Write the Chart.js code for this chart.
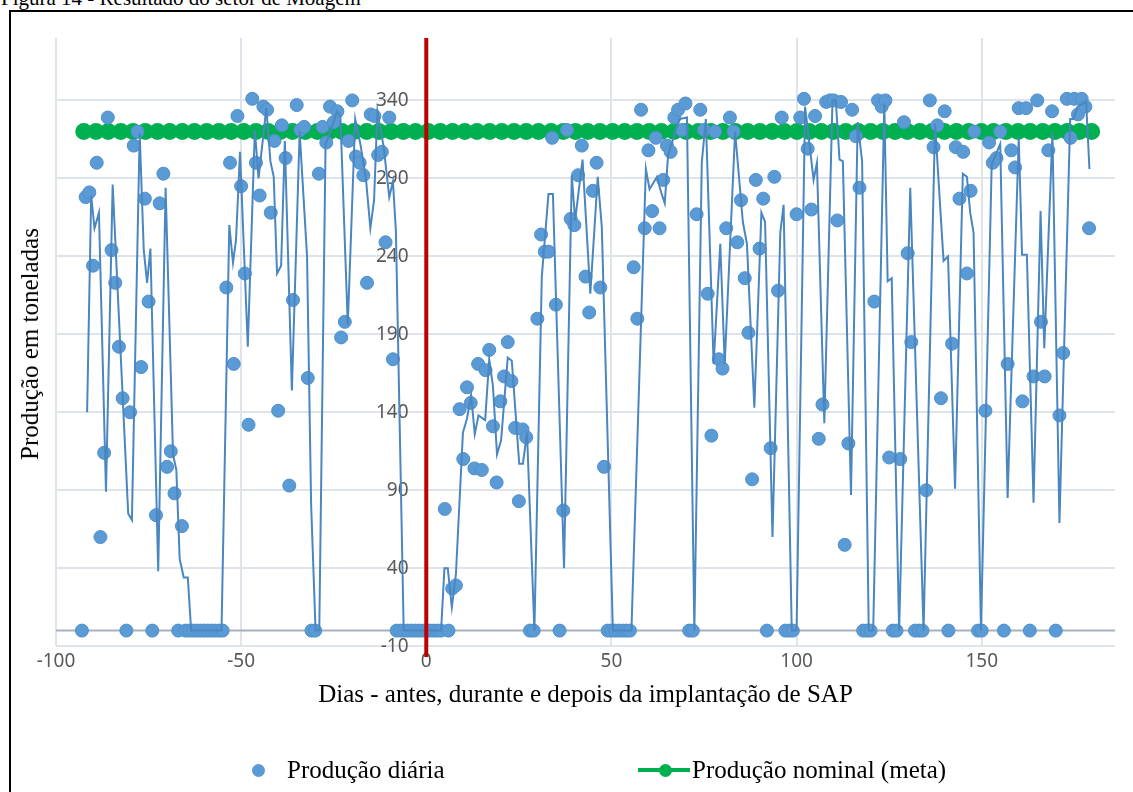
<!DOCTYPE html>
<html>
<head>
<meta charset="utf-8">
<script src="https://cdn.jsdelivr.net/npm/chart.js@4.4.1/dist/chart.umd.min.js"></script>
<style>
  body { margin: 0; background: #fff; width: 1133px; height: 792px; overflow: hidden; position: relative;
         font-family: "Liberation Serif", "Times New Roman", serif; color: #000; }
  #caption { position: absolute; left: 1px; top: -12px; font-size: 21px; line-height: 21px; white-space: nowrap; }
  #frame { position: absolute; left: 9px; top: 10px; width: 1140px; height: 800px; border: 2px solid #000; box-sizing: border-box; }
  #wrap { position: absolute; left: 0; top: 0; width: 1133px; height: 792px; }
  #ytitle { position: absolute; left: 30px; top: 344px; transform: translate(-50%, -50%) rotate(-90deg);
            font-family: "Liberation Serif", serif; font-size: 25px; white-space: nowrap; }
  .leg { position: absolute; top: 756px; height: 28px; font-family: "Liberation Serif", serif;
         font-size: 25px; line-height: 28px; white-space: nowrap; }
  .dot { position: absolute; width: 13px; height: 13px; border-radius: 50%; top: 8px; }
</style>
</head>
<body>
<div id="caption">Figura 14 - Resultado do setor de Moagem</div>
<div id="frame"></div>
<div id="wrap"><canvas id="chart" width="1133" height="792"></canvas></div>
<div id="ytitle">Produção em toneladas</div>
<div class="leg" style="left:250px;">
  <span class="dot" style="left:2px;background:#5b9bd5;"></span>
  <span style="position:absolute;left:37px;">Produção diária</span>
</div>
<div class="leg" style="left:638px;">
  <span style="position:absolute;left:0;top:12px;width:52px;height:4px;background:#00b050;"></span>
  <span class="dot" style="left:21px;background:#00b050;"></span>
  <span style="position:absolute;left:54px;">Produção nominal (meta)</span>
</div>
<script>
// eixo
const xTicks = [-100, -50, 0, 50, 100, 150];
const yTicks = [-10, 40, 90, 140, 190, 240, 290, 340];

// produção diária (t), um valor por dia a partir do dia -93
const firstDay = -93;
const dailyProd = [
  0, 278, 281, 234, 300, 60, 114, 329, 244, 223,
  182, 149, 0, 140, 311, 320, 169, 277, 211, 0,
  74, 274, 293, 105, 115, 88, 0, 67, 0, 0,
  0, 0, 0, 0, 0, 0, 0, 0, 0, 220,
  300, 171, 330, 285, 229, 132, 341, 300, 279, 336,
  334, 268, 314, 141, 324, 303, 93, 212, 337, 321,
  323, 162, 0, 0, 293, 323, 313, 336, 326, 333,
  188, 198, 314, 340, 304, 300, 292, 223, 331, 330,
  305, 307, 249, 329, 174, 0, 0, 0, 0, 0,
  0, 0, 0, 0, 0, 0, 0, 0, 78, 0,
  27, 29, 142, 110, 156, 146, 104, 171, 103, 167,
  180, 131, 95, 147, 163, 185, 160, 130, 83, 129,
  124, 0, 0, 200, 254, 243, 243, 316, 209, 0,
  77, 321, 264, 260, 292, 311, 227, 204, 282, 300,
  220, 105, 0, 0, 0, 0, 0, 0, 0, 233,
  200, 334, 258, 308, 269, 316, 258, 289, 311, 307,
  329, 334, 321, 338, 0, 0, 267, 334, 321, 216,
  125, 320, 174, 168, 258, 329, 320, 249, 276, 226,
  191, 97, 289, 245, 277, 0, 117, 291, 218, 329,
  0, 0, 0, 267, 329, 341, 309, 270, 330, 123,
  145, 339, 340, 340, 263, 339, 55, 120, 334, 317,
  284, 0, 0, 0, 211, 340, 336, 340, 111, 0,
  0, 110, 326, 242, 185, 0, 0, 0, 90, 340,
  310, 324, 149, 333, 0, 184, 310, 277, 307, 229,
  282, 320, 0, 0, 141, 313, 300, 303, 320, 0,
  171, 308, 297, 335, 147, 335, 0, 163, 340, 198,
  163, 308, 333, 0, 138, 178, 341, 316, 341, 331,
  341, 336, 258
];

// linha fina (sem legenda) [dia, t]
const trendLine = [
  [-91.6,140],[-90.5,279],[-89.6,258],[-88.4,268],[-86.5,89],[-84.7,286],[-80.5,75],[-79.5,71],
  [-77.4,319],[-76.3,244],[-75.4,223],[-74.5,245],[-72.4,38],[-70.4,284],[-68.4,113],[-67.5,103],
  [-66.6,46],[-65.5,34],[-64.4,34],[-63.5,0],[-55.3,0],[-53.2,260],[-52.2,236],[-51.4,250],
  [-50.3,307],[-48.2,182],[-46.3,321],[-45.3,290],[-43.2,335],[-42.1,301],[-41.2,291],[-40.3,229],
  [-39.2,234],[-38.2,314],[-36.3,154],[-34.2,320],[-32.2,240],[-31.1,81],[-29.9,0],[-28.9,0],
  [-27.2,312],[-26.3,317],[-24.1,333],[-23.2,330],[-21.2,196],[-19.2,328],[-17.8,312],[-16.3,290],
  [-15.1,258],[-14.1,276],[-13.2,333],[-11.5,310],[-10.0,278],[-9.0,288],[-8.2,256],[-6.1,0],
  [4.0,0],[4.9,40],[5.8,40],[6.9,15],[8.0,36],[9.9,127],[11,136],[12.1,151],[13.1,126],[14.1,138],
  [15.9,135],[17,174],[18,157],[19.1,113],[20.2,122],[22,175],[23.1,173],[25.1,107],[26.1,107],
  [27.2,127],[29.2,0],[31.2,227],[33.0,280],[34.2,280],[37.2,40],[39.3,292],[40.2,263],[42.2,302],
  [44.3,216],[46.3,291],[47.4,259],[50.4,0],[55.4,0],[59.3,296],[60.3,283],[62.3,291],[63.3,282],
  [64.4,274],[65.3,305],[68.4,328],[70.4,329],[72.4,0],[74.4,300],[75.5,328],[77.6,171],[79.4,248],
  [80.6,171],[83.4,320],[85.5,262],[86.6,248],[88.6,143],[90.5,268],[91.5,262],[93.5,60],[95.6,255],
  [96.5,273],[98.7,0],[100,0],[102.3,336],[104.6,289],[105.5,300],[107.5,133],[109.7,340],[110.6,340],
  [111.6,302],[112.5,301],[114.7,87],[116.5,326],[117.7,301],[119.5,0],[120.7,0],[123.7,338],
  [124.6,224],[125.7,226],[127.7,0],[130.7,284],[134.3,0],[137.4,325],[139.7,237],[140.9,240],
  [142.8,91],[144.9,293],[146,291],[146.9,268],[147.8,255],[149.8,0],[152.7,299],[155,312],[157,85],
  [160,316],[160.9,241],[162.2,241],[164,82],[165.9,269],[166.9,181],[169.1,319],[171,69],
  [173.9,328],[174.8,328],[175.9,336],[178.2,339],[179.1,296]
];

// produção nominal (meta)
const META = 320;
const metaDays = [
  -92.5, -89.2, -85.9, -82.5, -79.2, -75.9, -72.6, -69.3, -65.9, -62.6, -59.3, -56.0, -52.7, -49.3,
  -46.0, -42.7, -39.4, -36.1, -32.7, -29.4, -26.1, -22.8, -19.5, -16.1, -12.8, -9.5, -6.2, -2.9,
  0.5, 3.8, 7.1, 10.4, 13.7, 17.1, 20.4, 23.7, 27.0, 30.3, 33.7, 37.0, 40.3, 43.6, 46.9, 50.3,
  53.6, 56.9, 60.2, 63.5, 66.9, 70.2, 73.5, 76.8, 80.1, 83.5, 86.8, 90.1, 93.4, 96.7, 100.1,
  103.4, 106.7, 110.0, 113.3, 116.7, 120.0, 123.3, 126.6, 129.9, 133.3, 136.6, 139.9, 143.2,
  146.5, 149.9, 153.2, 156.5, 159.8, 163.1, 166.5, 169.8, 173.1, 176.4, 179.7
];

// dia da implantação
const goLiveDay = 0;
const goLiveRange = [-17, 380];

const dailyPoints = dailyProd.map((v, i) => ({ x: firstDay + i, y: v }));
const trendPoints = trendLine.map(p => ({ x: p[0], y: p[1] }));
const metaPoints = metaDays.map(d => ({ x: d, y: META }));
const goLivePoints = goLiveRange.map(v => ({ x: goLiveDay, y: v }));

// linha do eixo horizontal em y = 0
const zeroAxis = {
  id: 'zeroAxis',
  beforeDatasetsDraw(chart) {
    const { ctx, chartArea, scales } = chart;
    const y = scales.y.getPixelForValue(0);
    ctx.save();
    ctx.strokeStyle = '#a9b0bd';
    ctx.lineWidth = 2;
    ctx.beginPath();
    ctx.moveTo(chartArea.left, y);
    ctx.lineTo(chartArea.right, y);
    ctx.stroke();
    ctx.restore();
  }
};

const tickFont = { family: 'Noto Sans', size: 19 };
const gridStyle = { color: '#dfe3ea', lineWidth: 2, drawTicks: false };

new Chart(document.getElementById('chart'), {
  type: 'scatter',
  data: {
    datasets: [
      {
        label: 'Implantação SAP',
        data: goLivePoints,
        showLine: true,
        borderColor: '#c00000',
        borderWidth: 4,
        pointRadius: 0,
        clip: false,
        order: -1
      },
      {
        label: 'Tendência',
        data: trendPoints,
        showLine: true,
        borderColor: '#4a86c0',
        borderWidth: 2,
        pointRadius: 0,
        order: 0
      },
      {
        label: 'Produção diária',
        data: dailyPoints,
        backgroundColor: '#5b9bd5',
        borderColor: '#4f8fcb',
        borderWidth: 1,
        pointRadius: 6.5,
        order: 1
      },
      {
        label: 'Produção nominal (meta)',
        data: metaPoints,
        showLine: true,
        borderColor: '#00b050',
        backgroundColor: '#00b050',
        borderWidth: 4,
        pointRadius: 6.5,
        order: 2
      }
    ]
  },
  options: {
    responsive: false,
    animation: false,
    layout: { padding: { left: 56, right: 18, top: 38, bottom: 82 } },
    plugins: { legend: { display: false }, tooltip: { enabled: false } },
    scales: {
      x: {
        type: 'linear',
        min: -100,
        max: 186,
        afterBuildTicks: s => { s.ticks = xTicks.map(v => ({ value: v })); },
        grid: gridStyle,
        border: { display: false },
        ticks: { font: tickFont, color: '#595959', padding: 4 },
        title: {
          display: true,
          text: 'Dias - antes, durante e depois da implantação de SAP',
          font: { family: 'Liberation Serif', size: 25 },
          color: '#000',
          padding: { top: 3, bottom: 0 }
        }
      },
      y: {
        type: 'linear',
        min: -10,
        max: 380,
        // rótulos um pouco à esquerda da linha vermelha
        position: { x: -4.8 },
        afterBuildTicks: s => { s.ticks = yTicks.map(v => ({ value: v })); },
        grid: gridStyle,
        border: { display: false },
        ticks: { font: tickFont, color: '#595959', padding: 4 }
      }
    }
  },
  plugins: [zeroAxis]
});
</script>
</body>
</html>
